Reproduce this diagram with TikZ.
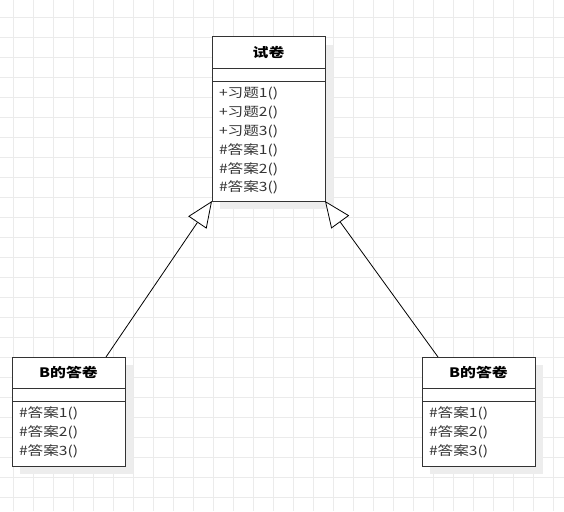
\documentclass[tikz,border=0pt]{standalone}
\usepackage{fontspec}
\setmainfont{Noto Sans CJK SC}[FakeStretch=1.22]
\usetikzlibrary{positioning,shadows,arrows.meta}

\begin{document}
\begin{tikzpicture}[x=1pt, y=-1pt]
  \tikzset{
    gridline/.style={black!8, line width=0.8pt},
    part/.style={draw=black!80, line width=1pt, fill=white, minimum width=113pt,
      inner sep=0pt, outer sep=0pt,
      drop shadow={shadow xshift=8pt, shadow yshift=-8pt, fill=black!7, draw=none, opacity=1}},
    head/.style={part, minimum height=31pt, font=\fontsize{13}{15}\selectfont\bfseries},
    attr/.style={part, minimum height=13pt},
    ops/.style={part, text width=99pt, inner xsep=7pt, inner ysep=0pt, align=left,
      text height=16.9pt, text=black!80, font=\fontsize{12.8}{18.8}\selectfont},
    inherit/.style={line width=0.8pt, -{Triangle[length=26pt, width=22pt, fill=white]}}
  }
  \useasboundingbox (0,0) rectangle (564,511);
  \foreach \gx in {13,33,...,553} \draw[gridline] (\gx,0) -- (\gx,511);
  \foreach \gy in {17,37,...,497} \draw[gridline] (0,\gy) -- (564,\gy);
  % base class
  \node[head] (paper) at (268.5,52.5) {试卷};
  \node[attr, below=0pt of paper] (paperAttr) {};
  \node[ops, below=0pt of paperAttr, text depth=103.1pt] (paperOps)
    {+习题1()\\+习题2()\\+习题3()\\\#答案1()\\\#答案2()\\\#答案3()};
  % subclasses
  \node[head] (ansL) at (68.5,372.5) {B的答卷};
  \node[attr, below=0pt of ansL] (ansLAttr) {};
  \node[ops, below=0pt of ansLAttr, text depth=48.1pt] (ansLOps)
    {\#答案1()\\\#答案2()\\\#答案3()};
  \node[head] (ansR) at (478.5,372.5) {B的答卷};
  \node[attr, below=0pt of ansR] (ansRAttr) {};
  \node[ops, below=0pt of ansRAttr, text depth=48.1pt] (ansROps)
    {\#答案1()\\\#答案2()\\\#答案3()};
  \draw[inherit] ([xshift=37.5pt]ansL.north) -- (paperOps.south west);
  \draw[inherit] ([xshift=-40.5pt]ansR.north) -- (paperOps.south east);
\end{tikzpicture}
\end{document}
